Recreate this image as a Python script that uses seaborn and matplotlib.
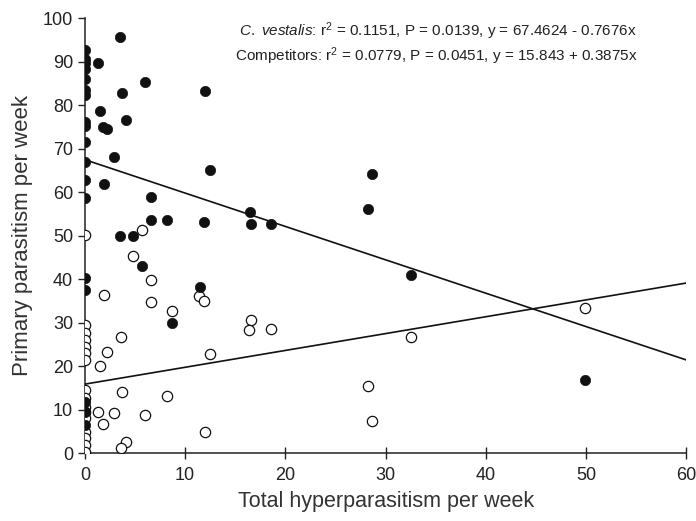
import numpy as np
import pandas as pd
import seaborn as sns
import matplotlib.pyplot as plt

# C. vestalis (filled) and competitors (open), weekly values
vest_x = [0, 0, 0, 0, 0, 0, 0, 0, 0, 0, 0, 0, 0, 0, 0, 0, 0, 0,
          3.5, 1.27, 6.0, 3.66, 12.0, 1.5, 4.1, 1.77, 2.16, 2.93, 12.5, 1.93,
          6.55, 6.55, 8.2, 11.9, 3.5, 4.8, 5.65, 11.5, 8.65, 28.6, 28.2, 16.5,
          16.6, 18.6, 32.5, 49.9]
vest_y = [92.6, 90.7, 89.6, 88.4, 86.1, 83.4, 82.3, 76.2, 75.2, 71.6, 67.0, 62.8,
          58.6, 40.2, 37.5, 11.8, 9.5, 6.4,
          95.6, 89.6, 85.4, 82.7, 83.3, 78.7, 76.7, 75.0, 74.6, 68.1, 65.1, 61.8,
          58.8, 53.6, 53.6, 53.2, 49.9, 49.9, 43.0, 38.1, 29.8, 64.1, 56.2, 55.5,
          52.6, 52.6, 40.9, 16.8]

comp_x = [0, 0, 0, 0, 0, 0, 0, 0, 0, 0, 0, 0, 0, 0, 0, 0,
          5.65, 4.8, 6.55, 1.93, 6.55, 11.4, 11.9, 8.65, 3.56, 2.16, 12.5, 1.5,
          3.66, 8.2, 1.27, 2.93, 6.0, 1.77, 12.0, 4.1, 3.56, 16.6, 16.4, 18.6,
          28.2, 28.6, 32.5, 49.9]
comp_y = [50.1, 29.4, 27.5, 26.0, 24.4, 22.9, 21.4, 14.5, 12.6, 10.6, 9.5, 8.0,
          4.9, 3.4, 1.8, 0.3,
          51.3, 45.3, 39.9, 36.3, 34.8, 36.1, 35.0, 32.7, 26.6, 23.3, 22.7, 20.0,
          14.1, 13.1, 9.5, 9.1, 8.7, 6.6, 4.9, 2.6, 1.1, 30.7, 28.3, 28.6,
          15.5, 7.4, 26.6, 33.4]

# regression fits as given in the figure
vest_fit = (67.4624, -0.7676)
comp_fit = (15.843, 0.3875)
fit_range = [0, 60]

sns.set_style('ticks')
plt.rcParams['font.family'] = ['Liberation Sans', 'DejaVu Sans']
plt.rcParams['mathtext.fontset'] = 'custom'
plt.rcParams['mathtext.rm'] = 'Liberation Sans'
plt.rcParams['mathtext.it'] = 'Liberation Sans:italic'

vest = pd.DataFrame({'x': vest_x, 'y': vest_y})
comp = pd.DataFrame({'x': comp_x, 'y': comp_y})

fig = plt.figure(figsize=(6.96, 5.21), dpi=100)
ax = fig.add_axes([0.122, 0.1305, 0.864, 0.8345])

sns.scatterplot(data=comp, x='x', y='y', ax=ax, s=55, facecolor='white',
                edgecolor='#111111', linewidth=0.9, zorder=3, clip_on=True)
sns.scatterplot(data=vest, x='x', y='y', ax=ax, s=55, color='#111111',
                edgecolor='#111111', linewidth=0.5, zorder=4, clip_on=True)

xs = np.array(fit_range, dtype=float)
for b0, b1 in (vest_fit, comp_fit):
    ax.plot(xs, b0 + b1 * xs, color='#111111', lw=1.2, zorder=5)

ax.set_xlim(0, 60)
ax.set_ylim(0, 100)
ax.set_xticks(range(0, 61, 10))
ax.set_yticks(range(0, 101, 10))
ax.tick_params(axis='y', direction='out', length=5, width=1, labelsize=13,
               colors='#222222')
ax.tick_params(axis='x', direction='inout', length=8, width=1, labelsize=13,
               colors='#222222', pad=6)
for side in ('top', 'right'):
    ax.spines[side].set_visible(False)
for side in ('left', 'bottom'):
    ax.spines[side].set_linewidth(1.1)
    ax.spines[side].set_color('#222222')

ax.set_xlabel('Total hyperparasitism per week', fontsize=15.5, labelpad=5,
              color='#333333')
ax.set_ylabel('Primary parasitism per week', fontsize=16, labelpad=7,
              color='#333333')

ax.text(0.256, 0.970,
        r'$\mathit{C.\ vestalis}$: r$^2$ = 0.1151, P = 0.0139, y = 67.4624 - 0.7676x',
        transform=ax.transAxes, ha='left', va='center', fontsize=11,
        color='#222222')
ax.text(0.250, 0.913,
        r'Competitors: r$^2$ = 0.0779, P = 0.0451, y = 15.843 + 0.3875x',
        transform=ax.transAxes, ha='left', va='center', fontsize=11,
        color='#222222')

fig.savefig('out.png', dpi=100)
